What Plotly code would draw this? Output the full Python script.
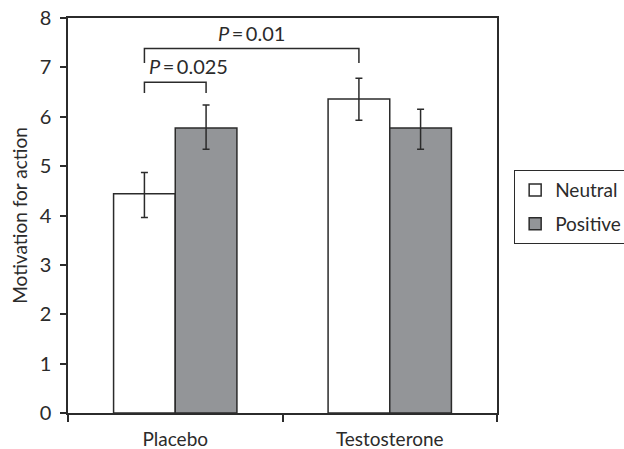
import plotly.graph_objects as go

categories = ["Placebo", "Testosterone"]
neutral = [4.44, 6.36]
neutral_err_plus = [0.43, 0.42]
neutral_err_minus = [0.48, 0.43]
positive = [5.77, 5.77]
positive_err_plus = [0.47, 0.38]
positive_err_minus = [0.43, 0.43]
y_ticks = [0, 1, 2, 3, 4, 5, 6, 7, 8]

# significance brackets: (left group, left series, right group, right series, y bar, y leg bottom, label, y label, anchor)
brackets = [
    (0, "neutral", 0, "positive", 6.70, 6.48, "<i>P</i>\u2009=\u20090.025", 7.02, "left"),
    (0, "neutral", 1, "neutral", 7.38, 7.09, "<i>P</i>\u2009=\u20090.01", 7.70, "center"),
]

FONT = "Lato, 'Open Sans', sans-serif"
DARK = "#2b2b2b"
GREY = "#939598"
bargap = 0.425
off = (1 - bargap) / 4

fig = go.Figure()
fig.add_trace(go.Bar(
    name="Neutral", x=categories, y=neutral, legendgroup="n",
    marker=dict(color="white", line=dict(color=DARK, width=1.5)),
    error_y=dict(type="data", symmetric=False, array=neutral_err_plus,
                 arrayminus=neutral_err_minus, color=DARK, thickness=1.5, width=3.5),
))
fig.add_trace(go.Bar(
    name="Positive", x=categories, y=positive, legendgroup="p",
    marker=dict(color=GREY, line=dict(color=DARK, width=1.5)),
    error_y=dict(type="data", symmetric=False, array=positive_err_plus,
                 arrayminus=positive_err_minus, color=DARK, thickness=1.5, width=3.5),
))

def xpos(g, s):
    return g + (-off if s == "neutral" else off)

for g1, s1, g2, s2, yb, yl, label, yt, anchor in brackets:
    x1, x2 = xpos(g1, s1), xpos(g2, s2)
    fig.add_shape(type="path",
                  path=f"M {x1} {yl} L {x1} {yb} L {x2} {yb} L {x2} {yl}",
                  line=dict(color=DARK, width=1.5), xref="x", yref="y")
    if anchor == "left":
        fig.add_annotation(x=x1, y=yt, text=label, showarrow=False,
                           xanchor="left", xshift=3, yanchor="middle",
                           font=dict(family=FONT, size=20, color=DARK))
    else:
        fig.add_annotation(x=(x1 + x2) / 2, y=yt, text=label, showarrow=False,
                           xanchor="center", yanchor="middle",
                           font=dict(family=FONT, size=20, color=DARK))

fig.update_layout(
    width=624, height=449,
    margin=dict(l=68, r=127, t=18, b=36, autoexpand=False),
    paper_bgcolor="white", plot_bgcolor="white",
    barmode="group", bargap=bargap, bargroupgap=0,
    font=dict(family=FONT, size=19, color=DARK),
    showlegend=True,
    legend=dict(x=1.04, y=0.615, xanchor="left", yanchor="top",
                bordercolor=DARK, borderwidth=1, bgcolor="white",
                font=dict(family=FONT, size=19, color=DARK),
                tracegroupgap=6, itemwidth=30),
)
fig.update_xaxes(
    type="category", range=[-0.5, 1.5], automargin=False,
    showline=True, linecolor=DARK, linewidth=1.5, mirror=True,
    ticks="outside", tickson="boundaries", ticklen=7, tickcolor=DARK, tickwidth=1.5,
    showgrid=False, tickfont=dict(size=19), ticklabelstandoff=8,
)
fig.update_yaxes(
    range=[0, 8], tickvals=y_ticks, automargin=False,
    showline=True, linecolor=DARK, linewidth=1.5, mirror=True,
    ticks="outside", ticklen=6, tickcolor=DARK, tickwidth=1.5,
    showgrid=False, zeroline=False, tickfont=dict(size=20), ticklabelstandoff=5,
    title=dict(text="Motivation for action", font=dict(size=19), standoff=7),
)

fig.write_html("out.html", config={"displayModeBar": False},
               post_script="document.body.style.margin='0';")
